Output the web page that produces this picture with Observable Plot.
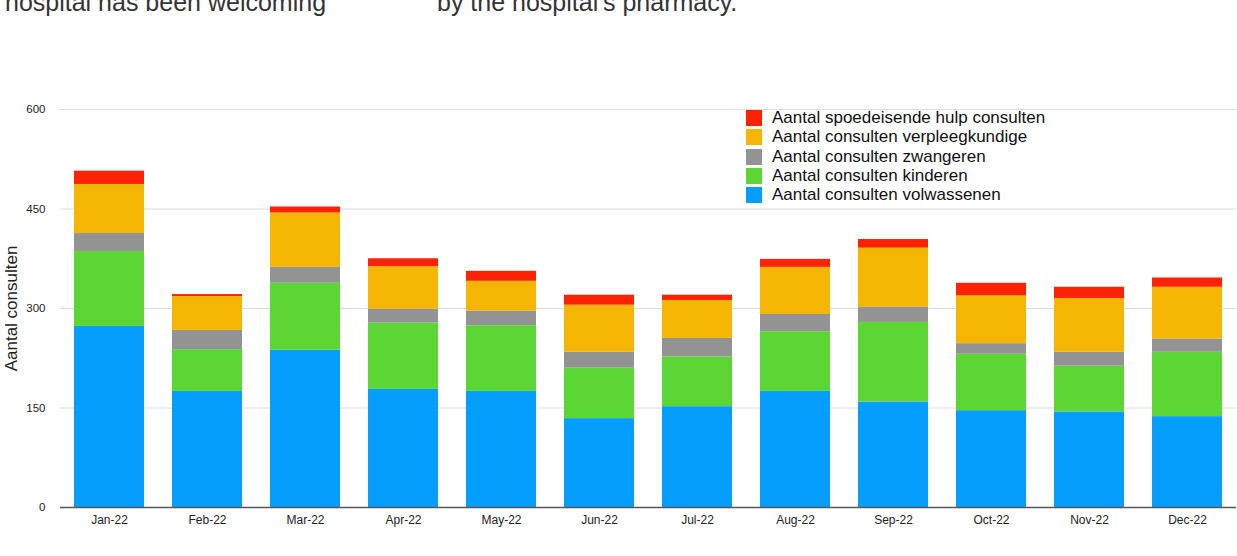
<!DOCTYPE html>
<html>
<head>
<meta charset="utf-8">
<script src="https://cdn.jsdelivr.net/npm/d3@7"></script>
<script src="https://cdn.jsdelivr.net/npm/@observablehq/plot@0.6"></script>
<style>
  body { margin: 0; background: #fff; font-family: "Liberation Sans", Arial, Helvetica, sans-serif; }
  #wrap { position: relative; width: 1237px; height: 556px; overflow: hidden; }
  .top { position: absolute; top: -10.5px; font-size: 25px; line-height: 25px; color: #333; white-space: nowrap; }
  #legend { position: absolute; left: 746px; top: 108.5px; font-size: 17px; color: #111; }
  .row { height: 19.25px; display: flex; align-items: center; white-space: nowrap; }
  .sw { width: 16px; height: 16px; margin-right: 10px; flex: none; }
  #chart { position: absolute; left: 0; top: 0; }
</style>
</head>
<body>
<div id="wrap">
  <div class="top" style="left:5px">hospital has been welcoming</div>
  <div class="top" style="left:437px">by the hospital's pharmacy.</div>
  <div id="chart"></div>
  <div id="legend"></div>
</div>
<script>
const months = ["Jan-22","Feb-22","Mar-22","Apr-22","May-22","Jun-22","Jul-22","Aug-22","Sep-22","Oct-22","Nov-22","Dec-22"];

const seriesNames = [
  "Aantal consulten volwassenen",
  "Aantal consulten kinderen",
  "Aantal consulten zwangeren",
  "Aantal consulten verpleegkundige",
  "Aantal spoedeisende hulp consulten"
];
const seriesColors = ["#069efc", "#5cd634", "#939393", "#f4b602", "#fc2206"];

const volwassenen     = [273, 175, 237, 178, 175, 134, 152, 175, 159, 146, 144, 137];
const kinderen        = [113,  63, 101, 100,  99,  76,  75,  90, 120,  85,  69,  97];
const zwangeren       = [ 27,  29,  24,  21,  22,  24,  28,  26,  23,  16,  21,  20];
const verpleegkundige = [ 74,  51,  82,  64,  45,  71,  57,  71,  89,  72,  81,  78];
const spoedeisend     = [ 20,   3,   9,  12,  15,  15,   8,  12,  13,  19,  17,  14];

const yTicks = [0, 150, 300, 450, 600];
const yLabel = "Aantal consulten";

const seriesValues = [volwassenen, kinderen, zwangeren, verpleegkundige, spoedeisend];
const data = [];
seriesNames.forEach((s, si) => {
  months.forEach((m, mi) => data.push({month: m, series: s, value: seriesValues[si][mi]}));
});

const font = '"Liberation Sans", Arial, Helvetica, sans-serif';

const chart = Plot.plot({
  width: 1237,
  height: 556,
  marginLeft: 60,
  marginRight: 1,
  marginTop: 109,
  marginBottom: 49,
  style: { fontFamily: font, fontSize: "12px", color: "#222", background: "transparent" },
  x: { domain: months, paddingInner: 0.286, paddingOuter: 0.143, label: null },
  y: { domain: [0, 600], label: null },
  color: { domain: seriesNames, range: seriesColors },
  marks: [
    Plot.ruleY(yTicks.filter(d => d > 0), { stroke: "#dcdcdc", strokeWidth: 1 }),
    Plot.barY(data, Plot.stackY({ order: null }, { x: "month", y: "value", fill: "series" })),
    Plot.ruleY([0], { stroke: "#555", strokeWidth: 1.5 }),
    Plot.axisY({ ticks: yTicks, tickSize: 0, tickPadding: 15, label: null, fontSize: 11.5 }),
    Plot.axisX({ tickSize: 0, tickPadding: 8, label: null, fontSize: 12 }),
    Plot.text([yLabel], { frameAnchor: "left", rotate: -90, dx: -49, fontSize: 17, textAnchor: "middle", fill: "#222" })
  ]
});
document.getElementById("chart").appendChild(chart);

const legend = document.getElementById("legend");
for (let i = seriesNames.length - 1; i >= 0; i--) {
  const row = document.createElement("div");
  row.className = "row";
  const sw = document.createElement("span");
  sw.className = "sw";
  sw.style.background = seriesColors[i];
  const t = document.createElement("span");
  t.textContent = seriesNames[i];
  row.appendChild(sw);
  row.appendChild(t);
  legend.appendChild(row);
}
</script>
</body>
</html>
